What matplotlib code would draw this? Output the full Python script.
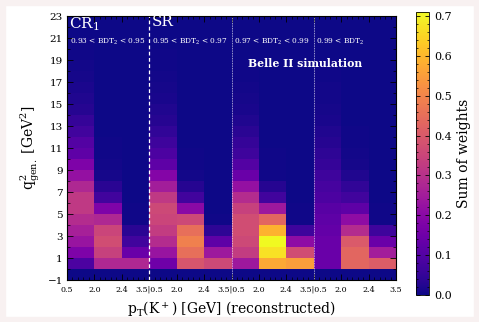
import numpy as np
import matplotlib
matplotlib.use("Agg")
import matplotlib.pyplot as plt
from matplotlib.ticker import MultipleLocator, FixedLocator
from matplotlib.patches import Rectangle

plt.rcParams["font.family"] = ["DejaVu Serif"]
plt.rcParams["mathtext.fontset"] = "dejavuserif"

# ---------------- data ----------------
q2_edges = list(range(-1, 24))          # 24 rows: -1..23
pt_tick_labels = ["0.5", "2.0", "2.4", "3.5|0.5", "2.0", "2.4", "3.5|0.5",
                  "2.0", "2.4", "3.5|0.5", "2.0", "2.4", "3.5"]
region_names = ["CR$_1$", "SR", "", ""]
bdt_labels = [r"0.93 < BDT$_2$ < 0.95", r"0.95 < BDT$_2$ < 0.97",
              r"0.97 < BDT$_2$ < 0.99", r"0.99 < BDT$_2$"]

# values per q2 row (-1..0, 0..1, ..., 22..23) for each pT bin in each BDT region
cr1_pt1 = [0, 0.09, 0.18, 0.23, 0.26, 0.29, 0.32, 0.32, 0.28, 0.22, 0.18, 0.12,
           0.10, 0.07, 0.05, 0.03, 0.02, 0.015, 0.01, 0.006, 0.004, 0.003, 0.002, 0.001]
cr1_pt2 = [0, 0.28, 0.34, 0.37, 0.35, 0.28, 0.18, 0.07, 0.035, 0.01, 0.006, 0.004,
           0.003, 0.002, 0.002, 0.001, 0.001, 0.001, 0, 0, 0, 0, 0, 0]
cr1_pt3 = [0, 0.28, 0.14, 0.07, 0.035, 0.005, 0.003, 0.002, 0.001, 0.001, 0, 0,
           0, 0, 0, 0, 0, 0, 0, 0, 0, 0, 0, 0]
sr_pt1 = [0, 0.15, 0.23, 0.29, 0.33, 0.35, 0.36, 0.32, 0.25, 0.19, 0.12, 0.09,
          0.065, 0.045, 0.03, 0.02, 0.012, 0.01, 0.006, 0.004, 0.003, 0.002, 0.001, 0.001]
sr_pt2 = [0, 0.39, 0.45, 0.49, 0.45, 0.36, 0.20, 0.07, 0.03, 0.006, 0.004, 0.003,
          0.002, 0.002, 0.001, 0.001, 0.001, 0, 0, 0, 0, 0, 0, 0]
sr_pt3 = [0, 0.36, 0.24, 0.12, 0.04, 0.003, 0.002, 0.001, 0.001, 0, 0, 0,
          0, 0, 0, 0, 0, 0, 0, 0, 0, 0, 0, 0]
vr_pt1 = [0, 0.24, 0.33, 0.36, 0.37, 0.37, 0.34, 0.29, 0.22, 0.14, 0.10, 0.065,
          0.05, 0.035, 0.02, 0.012, 0.01, 0.007, 0.005, 0.003, 0.002, 0.002, 0.001, 0.001]
vr_pt2 = [0, 0.57, 0.67, 0.71, 0.59, 0.43, 0.24, 0.07, 0.03, 0.005, 0.004, 0.003,
          0.002, 0.001, 0.001, 0.001, 0, 0, 0, 0, 0, 0, 0, 0]
vr_pt3 = [0, 0.55, 0.37, 0.21, 0.065, 0.005, 0.003, 0.002, 0.001, 0, 0, 0,
          0, 0, 0, 0, 0, 0, 0, 0, 0, 0, 0, 0]
hi_pt1 = [0, 0.14, 0.14, 0.14, 0.13, 0.12, 0.11, 0.09, 0.08, 0.065, 0.05, 0.04,
          0.03, 0.02, 0.012, 0.01, 0.008, 0.006, 0.004, 0.003, 0.002, 0.002, 0.001, 0.001]
hi_pt2 = [0, 0.43, 0.43, 0.40, 0.29, 0.21, 0.12, 0.07, 0.045, 0.02, 0.01, 0.006,
          0.004, 0.003, 0.002, 0.001, 0.001, 0, 0, 0, 0, 0, 0, 0]
hi_pt3 = [0, 0.41, 0.25, 0.14, 0.065, 0.005, 0.003, 0.002, 0.001, 0, 0, 0,
          0, 0, 0, 0, 0, 0, 0, 0, 0, 0, 0, 0]

columns = [cr1_pt1, cr1_pt2, cr1_pt3, sr_pt1, sr_pt2, sr_pt3,
           vr_pt1, vr_pt2, vr_pt3, hi_pt1, hi_pt2, hi_pt3]
grid = np.array(columns).T              # shape (24 rows, 12 cols)
x_edges = np.arange(len(columns) + 1)
y_edges = np.array(q2_edges)

# ---------------- figure ----------------
W, H = 479, 322
fig = plt.figure(figsize=(W / 100, H / 100), dpi=100)
fig.patch.set_facecolor("white")
# light frame around the figure
frame_c = "#f8f1f1"
m = 5
fig.patches.append(Rectangle((0, 0), 1, m / H, transform=fig.transFigure, color=frame_c, zorder=-1))
fig.patches.append(Rectangle((0, 1 - m / H), 1, m / H, transform=fig.transFigure, color=frame_c, zorder=-1))
fig.patches.append(Rectangle((0, 0), m / W, 1, transform=fig.transFigure, color=frame_c, zorder=-1))
fig.patches.append(Rectangle((1 - m / W, 0), m / W, 1, transform=fig.transFigure, color=frame_c, zorder=-1))

ax = fig.add_axes([67 / W, 1 - 280 / H, (396 - 67) / W, (280 - 16) / H])
vmax = grid.max()
mesh = ax.pcolormesh(x_edges, y_edges, grid, cmap="plasma", vmin=0, vmax=vmax)
ax.set_xlim(0, 12)
ax.set_ylim(-1, 23)

# region separators
ax.axvline(3, color="white", ls=(0, (3, 2)), lw=0.9)
ax.axvline(6, color="white", ls=(0, (1, 1)), lw=0.6, alpha=0.8)
ax.axvline(9, color="white", ls=(0, (1, 1)), lw=0.6, alpha=0.8)

# ticks
ax.xaxis.set_major_locator(FixedLocator(np.arange(13)))
ax.set_xticklabels(pt_tick_labels, fontsize=5.8)
ax.xaxis.set_minor_locator(MultipleLocator(0.2))
ax.yaxis.set_major_locator(FixedLocator(np.arange(-1, 24, 2)))
ax.yaxis.set_minor_locator(MultipleLocator(1))
ax.tick_params(axis="both", which="both", direction="in", top=True, right=True)
ax.tick_params(axis="both", which="major", length=4, width=0.6)
ax.tick_params(axis="both", which="minor", length=2, width=0.5)
ax.tick_params(axis="y", labelsize=7.5, pad=3)
ax.tick_params(axis="x", pad=4)

ax.set_xlabel(r"$\mathrm{p_T(K^+)}$ [GeV] (reconstructed)", fontsize=10, labelpad=4)
ax.set_ylabel(r"$\mathrm{q^2_{gen.}}$ [GeV$^2$]", fontsize=10, labelpad=4)

# annotations
for i, (nm, bl) in enumerate(zip(region_names, bdt_labels)):
    if nm:
        ax.text(3 * i + 0.08, 23.05, nm, color="white", fontsize=11, va="top", ha="left")
    ax.text(3 * i + 0.1, 20.6, bl, color="white", fontsize=5.3, va="center", ha="left")
ax.text(8.68, 18.7, "Belle II simulation", color="white", fontsize=7.8,
        fontweight="bold", ha="center", va="center")

# colorbar
cax = fig.add_axes([416 / W, 1 - 295 / H, 13 / W, (295 - 12) / H])
cb = fig.colorbar(mesh, cax=cax)
cb.set_ticks(np.arange(0, 0.71, 0.1))
cb.ax.yaxis.set_minor_locator(MultipleLocator(0.02))
cb.ax.tick_params(which="both", direction="in", left=True, right=True, labelsize=8)
cb.ax.tick_params(which="major", length=3, width=0.6)
cb.ax.tick_params(which="minor", length=1.5, width=0.5)
cb.set_label("Sum of weights", fontsize=10, labelpad=4)
cb.outline.set_linewidth(0.6)

fig.savefig("out.png", dpi=100)
